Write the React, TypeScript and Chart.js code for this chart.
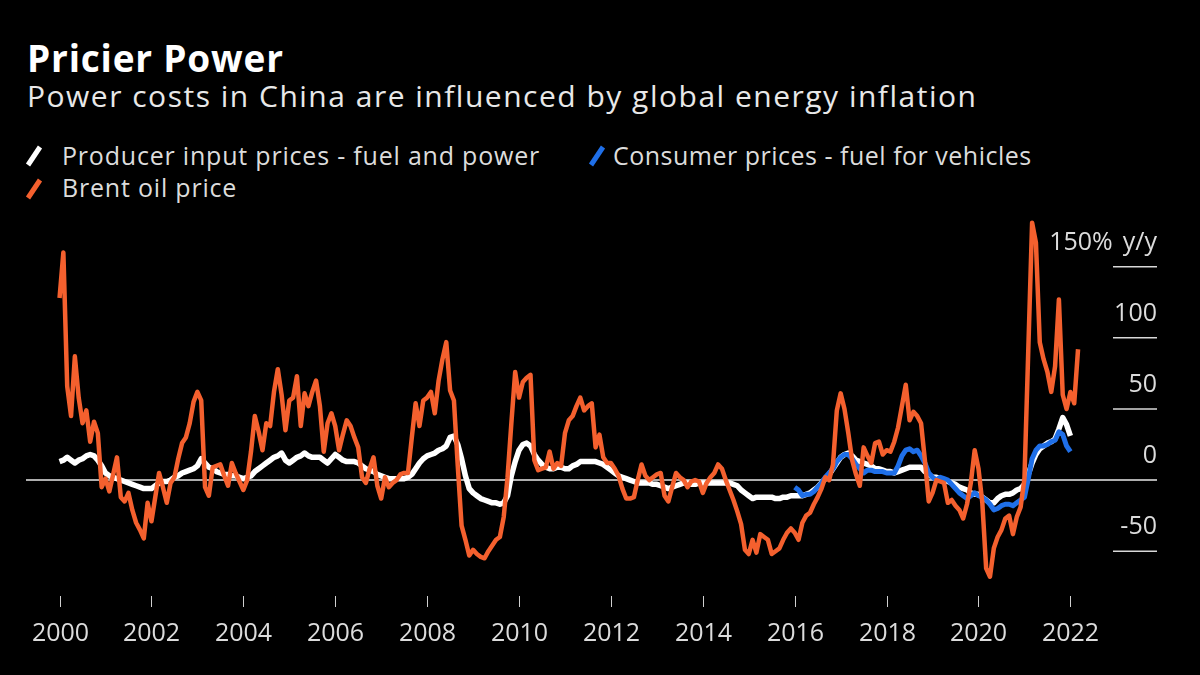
import React, { useEffect, useRef } from "react";
import { Chart, registerables } from "chart.js";

Chart.register(...registerables);

// ---- Data (monthly, y/y %) ----
const BRENT_START_YEAR = 2000;
const brentOil = [
  128, 160, 66, 45, 87, 58, 40, 49, 27, 41, 33, -5, // 2000
  1, -8, 4, 16, -12, -15, -9, -21, -30, -35, -41, -16, // 2001
  -29, -12, 5, -5, -16, -2, 2, 15, 26, 30, 40, 55, // 2002
  62, 56, -5, -11, 9, 10, 11, 3, -4, 12, 5, -1, // 2003
  -7, 0, 20, 45, 34, 21, 40, 38, 62, 78, 60, 35, // 2004
  56, 58, 73, 38, 61, 52, 62, 70, 52, 20, 40, 47, // 2005
  38, 21, 32, 42, 38, 30, 23, 2, -2, 8, 16, -4, // 2006
  -13, 2, -5, -2, 0, 4, 5, 5, 30, 54, 38, 56, // 2007
  58, 62, 47, 70, 85, 97, 63, 56, 10, -32, -42, -53, // 2008
  -49, -52, -54, -55, -50, -46, -42, -40, -26, 2, 40, 76, // 2009
  58, 69, 72, 74, 14, 7, 8, 9, 20, 8, 12, 10, // 2010
  33, 42, 45, 52, 58, 49, 52, 54, 23, 32, 16, 12, // 2011
  12, 8, 3, -6, -13, -13, -12, 0, 11, 3, 0, 2, // 2012
  4, 5, -11, -15, -5, 5, 2, 0, -5, -1, 0, -1, // 2013
  -9, -2, 2, 5, 11, 8, 0, -7, -14, -22, -31, -49, // 2014
  -52, -42, -51, -38, -40, -42, -52, -50, -48, -42, -37, -34, // 2015
  -37, -42, -30, -25, -23, -17, -12, -6, 2, 0, 11, 49, // 2016
  61, 50, 33, 14, 4, -4, 23, 17, 12, 26, 27, 18, // 2017
  21, 20, 27, 37, 52, 67, 42, 48, 45, 40, 14, -15, // 2018
  -9, 0, -1, -2, -16, -14, -18, -21, -27, -17, -2, 21, // 2019
  8, -16, -62, -68, -48, -40, -35, -27, -25, -38, -26, -19, // 2020
  1, 91, 181, 167, 97, 85, 76, 62, 80, 127, 60, 50, // 2021
  62, 54, 92, // 2022
];

const PRODUCER_START_YEAR = 2000;
const producerInputFuelPower = [
  13, 14, 16, 14, 12, 14, 15, 17, 18, 17, 14, 10, // 2000
  5, 3, 2, 1, 0, -1, -2, -3, -4, -5, -6, -6, // 2001
  -6, -4, -2, -1, -1, 0, 2, 3, 5, 6, 7, 8, // 2002
  10, 15, 12, 9, 8, 6, 5, 4, 4, 3, 3, 2, // 2003
  1, 2, 3, 6, 8, 10, 12, 14, 16, 17, 19, 14, // 2004
  12, 14, 16, 17, 19, 17, 16, 16, 16, 14, 12, 15, // 2005
  18, 16, 14, 13, 13, 13, 12, 10, 8, 7, 6, 4, // 2006
  3, 2, 1, 1, 1, 1, 1, 2, 4, 8, 12, 15, // 2007
  17, 18, 19, 21, 22, 24, 30, 31, 25, 15, 3, -6, // 2008
  -9, -11, -13, -14, -15, -16, -16, -17, -16, -11, 3, 13, // 2009
  21, 25, 26, 24, 18, 14, 11, 9, 8, 8, 9, 9, // 2010
  8, 8, 10, 11, 13, 13, 13, 13, 13, 12, 11, 9, // 2011
  7, 5, 3, 2, 1, 0, -1, -2, -2, -2, -2, -3, // 2012
  -3, -4, -5, -6, -5, -4, -3, -2, -2, -3, -3, -2, // 2013
  -2, -2, -2, -2, -2, -2, -2, -2, -3, -4, -7, -9, // 2014
  -11, -13, -12, -12, -12, -12, -12, -13, -13, -12, -12, -11, // 2015
  -11, -11, -11, -10, -9, -7, -5, -2, 1, 4, 8, 12, // 2016
  16, 18, 19, 17, 14, 13, 12, 11, 10, 8, 8, 7, // 2017
  6, 6, 5, 6, 7, 8, 9, 9, 9, 9, 6, 4, // 2018
  2, 2, 1, 0, -1, -2, -3, -5, -6, -7, -9, -10, // 2019
  -10, -12, -14, -16, -16, -13, -11, -10, -10, -9, -7, -6, // 2020
  -3, 4, 12, 18, 22, 24, 26, 27, 29, 36, 44, 39, // 2021
  31, // 2022
];

const CONSUMER_START_YEAR = 2016;
const consumerFuelVehicles = [
  -5, -7, -11, -10, -10, -8, -5, -2, 2, 5, 8, 13, // 2016
  16, 18, 18, 15, 11, 8, 5, 7, 7, 6, 6, 6, // 2017
  5, 5, 5, 10, 17, 21, 22, 20, 21, 17, 12, 5, // 2018
  2, 0, 2, 1, 0, -3, -6, -9, -11, -13, -11, -9, // 2019
  -11, -12, -14, -17, -21, -20, -18, -17, -17, -18, -16, -14, // 2020
  -12, 1, 15, 21, 24, 24, 25, 27, 28, 34, 32, 24, // 2021
  20, // 2022
];

const yTickValues = [-50, 0, 50, 100, 150];
const yTickLabels = ["-50", "0", "50", "100", "150% y/y"];
const xTickYears = [2000, 2002, 2004, 2006, 2008, 2010, 2012, 2014, 2016, 2018, 2020, 2022];

const seriesNames = [
  "Producer input prices - fuel and power",
  "Consumer prices - fuel for vehicles",
  "Brent oil price",
];

const COLORS = {
  producer: "#ffffff",
  consumer: "#1f6fe8",
  brent: "#f4602e",
  text: "#dcdcdc",
};

const FONT = '"Open Sans", "Noto Sans", sans-serif';

const toPoints = (values: number[], startYear: number) =>
  values.map((v, i) => ({ x: startYear + i / 12, y: v }));

const axesPlugin = {
  id: "bbgAxes",
  beforeDatasetsDraw(chart: any) {
    const { ctx, chartArea, scales } = chart;
    const x = scales.x;
    const y = scales.y;
    ctx.save();
    // zero line
    const y0 = y.getPixelForValue(0);
    ctx.strokeStyle = "#e8e8e8";
    ctx.lineWidth = 1.5;
    ctx.beginPath();
    ctx.moveTo(chartArea.left, y0);
    ctx.lineTo(chartArea.right, y0);
    ctx.stroke();
    // short tick lines under the y labels
    ctx.strokeStyle = "#d8d8d8";
    ctx.lineWidth = 1.5;
    yTickValues.forEach((v) => {
      if (v === 0) return;
      const py = y.getPixelForValue(v);
      ctx.beginPath();
      ctx.moveTo(chartArea.right - 44, py);
      ctx.lineTo(chartArea.right, py);
      ctx.stroke();
    });
    // y labels
    ctx.fillStyle = COLORS.text;
    ctx.font = `25px ${FONT}`;
    ctx.textAlign = "right";
    ctx.textBaseline = "alphabetic";
    yTickValues.forEach((v, i) => {
      const py = y.getPixelForValue(v);
      const label = yTickLabels[i];
      if (label.includes(" ")) {
        const parts = label.split(" ");
        const tail = parts[1];
        const tailW = ctx.measureText(tail).width;
        ctx.fillText(tail, chartArea.right, py - 17);
        ctx.fillText(parts[0], chartArea.right - tailW - 10, py - 17);
      } else {
        ctx.fillText(label, chartArea.right, py - 17);
      }
    });
    // x ticks and labels
    ctx.strokeStyle = "#d0d0d0";
    ctx.lineWidth = 1;
    ctx.textAlign = "center";
    xTickYears.forEach((yr) => {
      const px = Math.round(x.getPixelForValue(yr)) + 0.5;
      ctx.beginPath();
      ctx.moveTo(px, chartArea.bottom + 5);
      ctx.lineTo(px, chartArea.bottom + 16);
      ctx.stroke();
      ctx.fillText(String(yr), px, chartArea.bottom + 50);
    });
    ctx.restore();
  },
};

function LegendMark({ color }: { color: string }) {
  return (
    <svg width={20} height={24} style={{ display: "block" }}>
      <line x1={3} y1={21} x2={15} y2={3} stroke={color} strokeWidth={5} />
    </svg>
  );
}

export default function App() {
  const canvasRef = useRef<HTMLCanvasElement>(null);

  useEffect(() => {
    const canvas = canvasRef.current;
    if (!canvas) return;
    const chart = new Chart(canvas, {
      type: "line",
      data: {
        datasets: [
          {
            label: seriesNames[2],
            data: toPoints(brentOil, BRENT_START_YEAR),
            borderColor: COLORS.brent,
            borderWidth: 4.5,
            order: 0,
          },
          {
            label: seriesNames[1],
            data: toPoints(consumerFuelVehicles, CONSUMER_START_YEAR),
            borderColor: COLORS.consumer,
            borderWidth: 5,
            order: 1,
          },
          {
            label: seriesNames[0],
            data: toPoints(producerInputFuelPower, PRODUCER_START_YEAR),
            borderColor: COLORS.producer,
            borderWidth: 5.5,
            order: 2,
          },
        ],
      },
      options: {
        responsive: false,
        animation: false,
        devicePixelRatio: 1,
        layout: { padding: { left: 26, right: 43, top: 217, bottom: 84 } },
        elements: {
          point: { radius: 0 },
          line: { tension: 0, borderJoinStyle: "round", borderCapStyle: "butt" },
        },
        scales: {
          x: { type: "linear", min: 1999.27, max: 2023.885, display: false },
          y: { type: "linear", min: -78, max: 185, display: false },
        },
        plugins: {
          legend: { display: false },
          tooltip: { enabled: false },
          title: { display: false },
        },
      },
      plugins: [axesPlugin],
    } as any);
    return () => chart.destroy();
  }, []);

  const legendText: React.CSSProperties = {
    position: "absolute",
    fontSize: 25,
    lineHeight: "25px",
    letterSpacing: "0.8px",
    color: COLORS.text,
    whiteSpace: "nowrap",
  };

  return (
    <div
      style={{
        position: "absolute",
        left: 0,
        top: 0,
        width: 1200,
        height: 675,
        background: "#000",
        overflow: "hidden",
        fontFamily: FONT,
      }}
    >
      <div
        style={{
          position: "absolute",
          left: 27,
          top: 39,
          fontSize: 37,
          lineHeight: "37px",
          fontWeight: 700,
          letterSpacing: "0.8px",
          color: "#ffffff",
          whiteSpace: "nowrap",
        }}
      >
        Pricier Power
      </div>
      <div
        style={{
          position: "absolute",
          left: 27,
          top: 81,
          fontSize: 30,
          lineHeight: "30px",
          letterSpacing: "1.5px",
          color: "#e8e8e8",
          whiteSpace: "nowrap",
        }}
      >
        Power costs in China are influenced by global energy inflation
      </div>

      <div style={{ position: "absolute", left: 25, top: 144 }}>
        <LegendMark color={COLORS.producer} />
      </div>
      <div style={{ ...legendText, left: 62, top: 143 }}>{seriesNames[0]}</div>

      <div style={{ position: "absolute", left: 588, top: 144 }}>
        <LegendMark color={COLORS.consumer} />
      </div>
      <div style={{ ...legendText, left: 613, top: 143, letterSpacing: "0.5px" }}>
        {seriesNames[1]}
      </div>

      <div style={{ position: "absolute", left: 25, top: 177 }}>
        <LegendMark color={COLORS.brent} />
      </div>
      <div style={{ ...legendText, left: 62, top: 175 }}>{seriesNames[2]}</div>

      <canvas
        ref={canvasRef}
        width={1200}
        height={675}
        style={{ position: "absolute", left: 0, top: 0, width: 1200, height: 675 }}
      />
    </div>
  );
}
